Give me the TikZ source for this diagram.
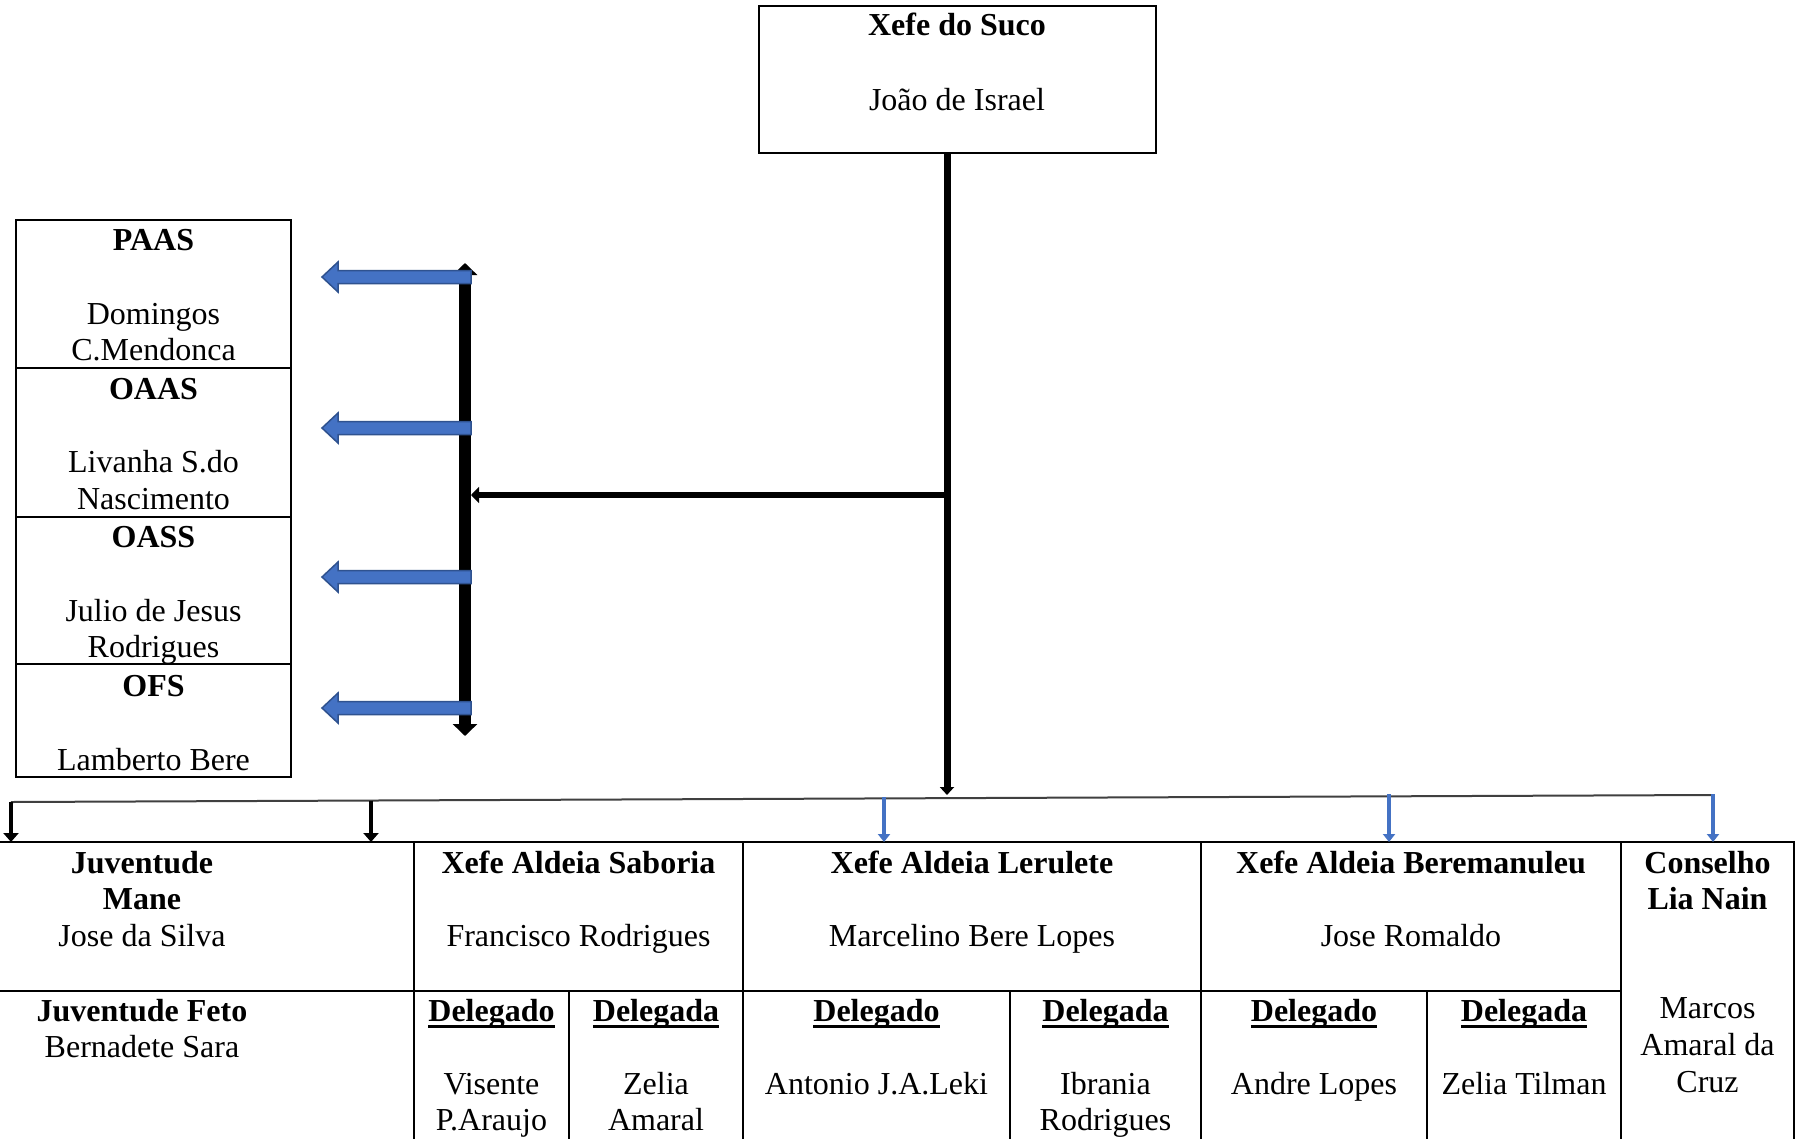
\documentclass[tikz,border=0pt]{standalone}
\usepackage{fontspec}
\setmainfont{Liberation Serif}
\usetikzlibrary{arrows.meta,calc}
\definecolor{offblue}{HTML}{4472C4}
\definecolor{offblueline}{HTML}{2F528F}
\newcommand\myul[1]{\leavevmode\setbox0\hbox{#1}\rlap{\rule[-7pt]{\wd0}{3pt}}\box0}
\begin{document}
\begin{tikzpicture}[x=1pt,y=-1pt,
  box/.style={draw=black, line width=2pt, inner sep=0pt, outer sep=0pt, anchor=north west},
  tx/.style={inner sep=0pt, anchor=base, font=\fontsize{32pt}{37pt}\selectfont},
  bx/.style={inner sep=0pt, anchor=base, font=\fontsize{32pt}{37pt}\selectfont\bfseries},
  bluearr/.style={fill=offblue, draw=offblueline, line width=1.5pt, line join=miter},
  blackdown/.style={line width=4pt, -{Triangle[width=15pt,length=9pt]}},
  bluedown/.style={line width=3.5pt, draw=offblue, -{Triangle[width=12pt,length=8pt]}, color=offblue},
]
\clip (0,0) rectangle (1796,1138);
\fill[white] (0,0) rectangle (1796,1138);

% top box
\node[box, minimum width=397pt, minimum height=147pt] (suco) at (759,6) {};
\node[bx] (t-suco1) at (957,35) {Xefe do Suco};
\node[tx] (t-suco2) at (957,110) {João de Israel};

% left boxes
\node[box, minimum width=275pt, minimum height=148pt] (paas) at (16,220) {};
\node[box, minimum width=275pt, minimum height=149pt] (oaas) at (16,368) {};
\node[box, minimum width=275pt, minimum height=147pt] (oass) at (16,517) {};
\node[box, minimum width=275pt, minimum height=113pt] (ofs) at (16,664) {};
\node[bx] (t-paas1) at (153.5,250) {PAAS};
\node[tx] (t-paas2) at (153.5,324) {Domingos};
\node[tx] (t-paas3) at (153.5,360) {C.Mendonca};
\node[bx] (t-oaas1) at (153.5,399) {OAAS};
\node[tx] (t-oaas2) at (153.5,472) {Livanha S.do};
\node[tx] (t-oaas3) at (153.5,509) {Nascimento};
\node[bx] (t-oass1) at (153.5,547) {OASS};
\node[tx] (t-oass2) at (153.5,621) {Julio de Jesus};
\node[tx] (t-oass3) at (153.5,657) {Rodrigues};
\node[bx] (t-ofs1) at (153.5,696) {OFS};
\node[tx] (t-ofs2) at (153.5,770) {Lamberto Bere};

% bottom table, row 1
\node[box, minimum width=417pt, minimum height=149pt] (juvm) at (-3,842) {};
\node[box, minimum width=329pt, minimum height=149pt] (saboria) at (414,842) {};
\node[box, minimum width=458pt, minimum height=149pt] (lerulete) at (743,842) {};
\node[box, minimum width=420pt, minimum height=149pt] (beremanuleu) at (1201,842) {};
\node[box, minimum width=173pt, minimum height=330pt] (conselho) at (1621,842) {};
% row 2
\node[box, minimum width=417pt, minimum height=170pt] (juvf) at (-3,991) {};
\node[box, minimum width=155pt, minimum height=170pt] (sabdo) at (414,991) {};
\node[box, minimum width=174pt, minimum height=170pt] (sabda) at (569,991) {};
\node[box, minimum width=267pt, minimum height=170pt] (lerdo) at (743,991) {};
\node[box, minimum width=191pt, minimum height=170pt] (lerda) at (1010,991) {};
\node[box, minimum width=226pt, minimum height=170pt] (berdo) at (1201,991) {};
\node[box, minimum width=194pt, minimum height=170pt] (berda) at (1427,991) {};

% table texts
\node[bx] (t-juvm1) at (142,873) {Juventude};
\node[bx] (t-juvm2) at (142,909) {Mane};
\node[tx] (t-juvm3) at (142,946) {Jose da Silva};
\node[bx] (t-juvf1) at (142,1021) {Juventude Feto};
\node[tx] (t-juvf2) at (142,1057) {Bernadete Sara};

\node[bx] (t-sab1) at (578.5,873) {Xefe Aldeia Saboria};
\node[tx] (t-sab2) at (578.5,946) {Francisco Rodrigues};
\node[bx] (t-sabdo1) at (491.5,1021) {\myul{Delegado}};
\node[tx] (t-sabdo2) at (491.5,1094) {Visente};
\node[tx] (t-sabdo3) at (491.5,1130) {P.Araujo};
\node[bx] (t-sabda1) at (656,1021) {\myul{Delegada}};
\node[tx] (t-sabda2) at (656,1094) {Zelia};
\node[tx] (t-sabda3) at (656,1130) {Amaral};

\node[bx] (t-ler1) at (972,873) {Xefe Aldeia Lerulete};
\node[tx] (t-ler2) at (972,946) {Marcelino Bere Lopes};
\node[bx] (t-lerdo1) at (876.5,1021) {\myul{Delegado}};
\node[tx] (t-lerdo2) at (876.5,1094) {Antonio J.A.Leki};
\node[bx] (t-lerda1) at (1105.5,1021) {\myul{Delegada}};
\node[tx] (t-lerda2) at (1105.5,1094) {Ibrania};
\node[tx] (t-lerda3) at (1105.5,1130) {Rodrigues};

\node[bx] (t-ber1) at (1411,873) {Xefe Aldeia Beremanuleu};
\node[tx] (t-ber2) at (1411,946) {Jose Romaldo};
\node[bx] (t-berdo1) at (1314,1021) {\myul{Delegado}};
\node[tx] (t-berdo2) at (1314,1094) {Andre Lopes};
\node[bx] (t-berda1) at (1524,1021) {\myul{Delegada}};
\node[tx] (t-berda2) at (1524,1094) {Zelia Tilman};

\node[bx] (t-con1) at (1707.5,873) {Conselho};
\node[bx] (t-con2) at (1707.5,909) {Lia Nain};
\node[tx] (t-con3) at (1707.5,1018) {Marcos};
\node[tx] (t-con4) at (1707.5,1055) {Amaral da};
\node[tx] (t-con5) at (1707.5,1092) {Cruz};

% connectors
\coordinate (mvtop) at ([xshift=-10.5pt]suco.south);
\coordinate (mvend) at (947,795);
\coordinate (junc) at (947,495);
\coordinate (bartop) at (465,263);
\coordinate (barbot) at (465,736);
\coordinate (barhit) at (471,495);
\draw[line width=7pt, -{Triangle[width=14pt,length=8pt]}] (mvtop) -- (mvend);
\draw[line width=6.5pt, -{Triangle[width=16pt,length=8pt]}] (junc) -- (barhit);
\draw[line width=12pt, {Triangle[width=24pt,length=12pt]}-{Triangle[width=24pt,length=12pt]}] (bartop) -- (barbot);

% blue block arrows towards the left boxes
\foreach \yy in {277,428,577,708} {
  \draw[bluearr] (471,\yy-6.5) -- (338,\yy-6.5) -- (338,\yy-15) -- (322,\yy)
    -- (338,\yy+15) -- (338,\yy+6.5) -- (471,\yy+6.5) -- cycle;
}

% distribution line
\coordinate (dl) at (11,802);
\coordinate (dr) at (1712,795);
\draw[line width=2pt, draw=black!75] (dl) -- (dr);
\coordinate (a1) at (11,802);
\coordinate (a2) at (371,800.5);
\coordinate (a3) at (884,797);
\coordinate (a4) at (1389,794);
\coordinate (a5) at (1713,794);
\draw[blackdown] (a1) -- (a1 |- juvm.north);
\draw[blackdown] (a2) -- (a2 |- juvm.north);
\draw[bluedown] (a3) -- (a3 |- lerulete.north);
\draw[bluedown] (a4) -- (a4 |- beremanuleu.north);
\draw[bluedown] (a5) -- (a5 |- conselho.north);
\end{tikzpicture}
\end{document}
